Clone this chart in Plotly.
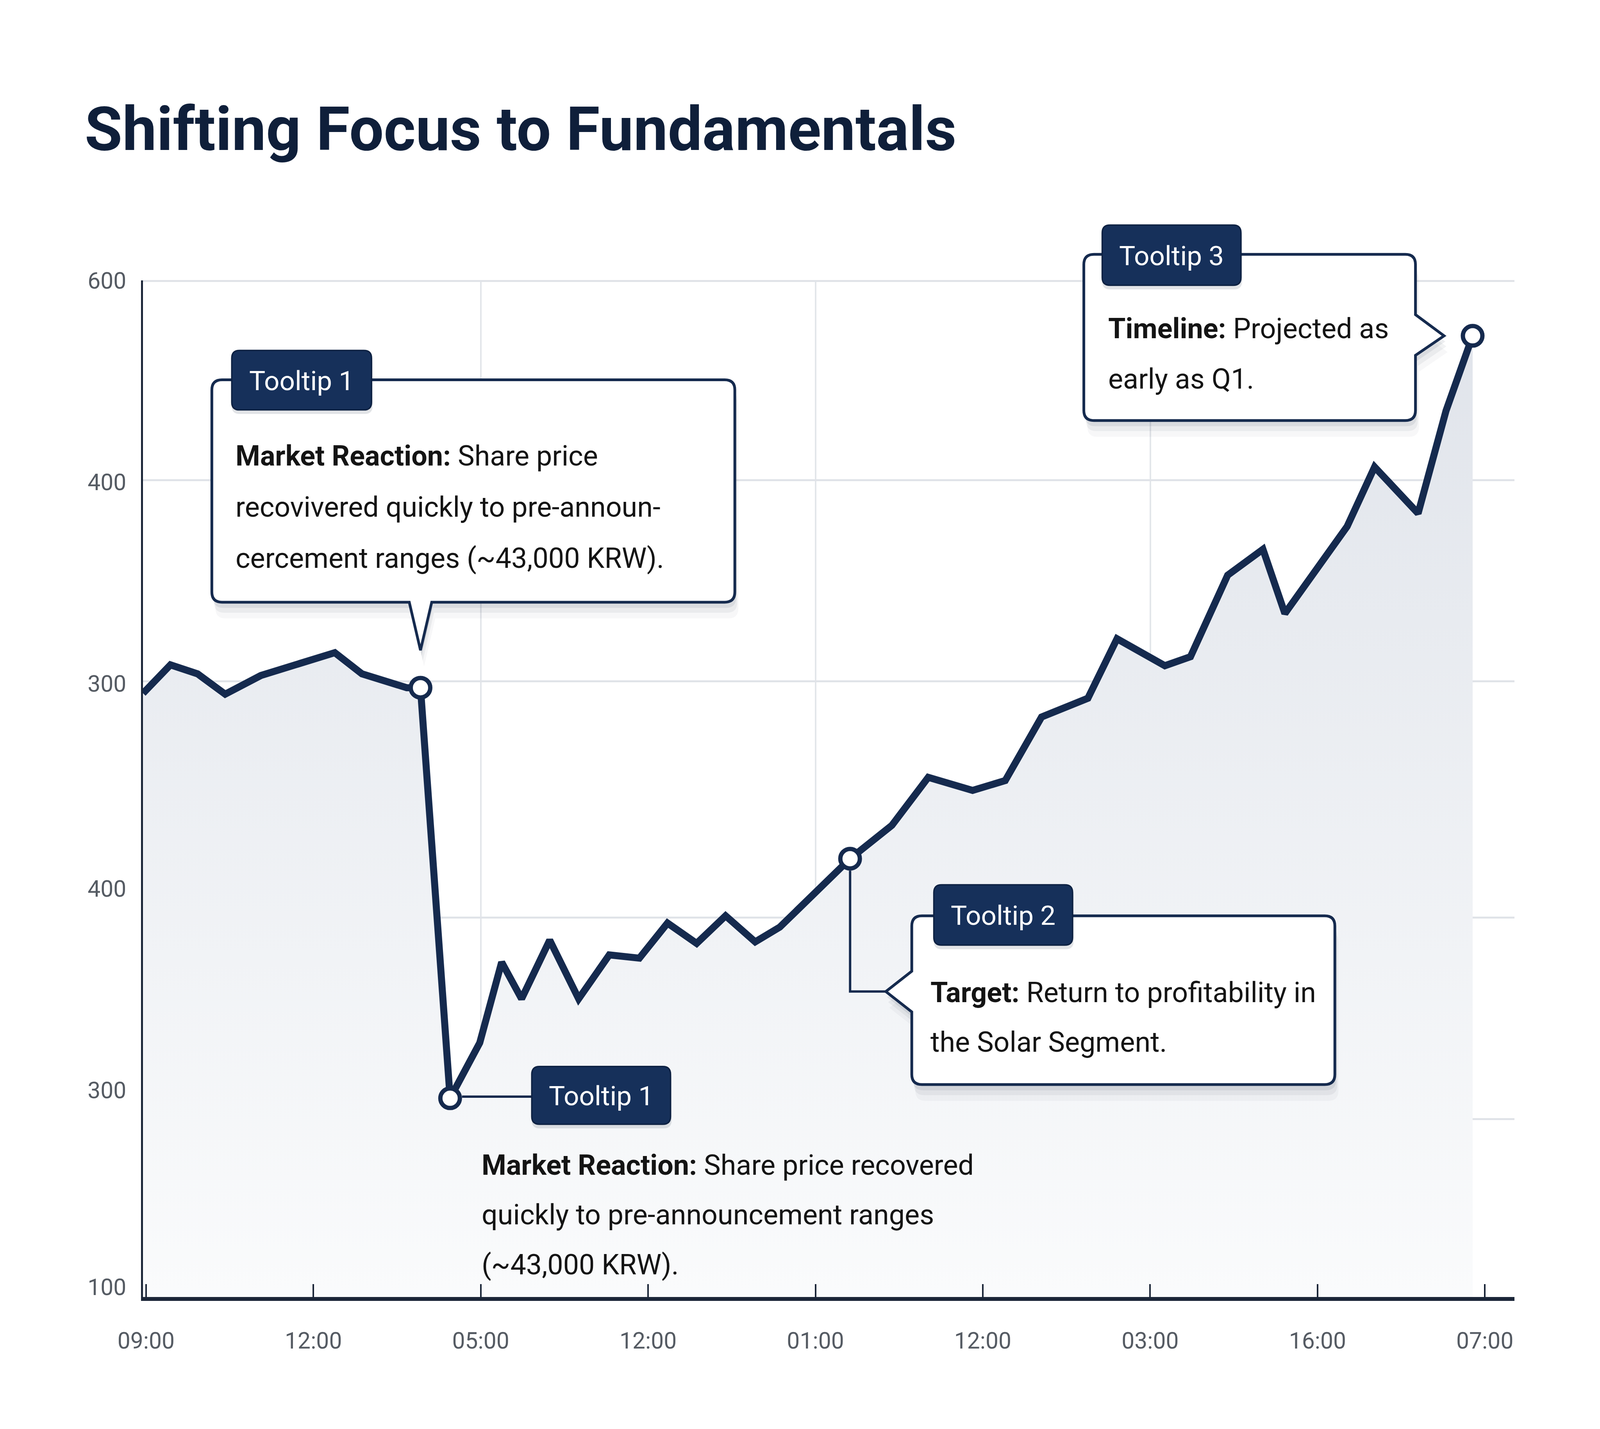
import plotly.graph_objects as go

# ---------------- data ----------------
sessions = [-0.018, 0.146, 0.308, 0.473, 0.686, 1.128, 1.290, 1.558, 1.640, 1.817,
            1.994, 2.125, 2.244, 2.412, 2.585, 2.768, 2.948, 3.116, 3.290, 3.463,
            3.640, 3.787, 4.207, 4.457, 4.674, 4.939, 5.134, 5.351, 5.628, 5.802,
            6.088, 6.241, 6.463, 6.674, 6.805, 7.015, 7.177, 7.341, 7.601, 7.768,
            7.927]
price_index = [356.3, 373.1, 367.8, 355.8, 366.8, 380.3, 367.8, 359.6, 359.6, 117.3,
               150.0, 197.6, 176.0, 210.6, 176.0, 201.9, 200.0, 220.7, 208.7, 225.0,
               209.6, 218.3, 258.7, 278.4, 306.7, 299.0, 304.8, 342.3, 353.4, 388.5,
               372.6, 377.9, 426.0, 441.3, 403.4, 431.7, 454.8, 489.9, 462.5, 523.1,
               567.3]
highlight_idx = [8, 9, 22, 40]

x_tick_positions = [0, 1, 2, 3, 4, 5, 6, 7, 8]
x_tick_labels = ["09:00", "12:00", "05:00", "12:00", "01:00", "12:00", "03:00", "16:00", "07:00"]
x_grid_positions = [2.0005, 4.0005, 6.0005]
y_tick_positions = [600, 481, 362, 241, 122, 6]
y_tick_labels = ["600", "400", "300", "400", "300", "100"]
y_grid_positions = [599.6, 482, 363.5, 224, 105]

title_text = "Shifting Focus to Fundamentals"
tip1_label = "Tooltip 1"
tip1_lines = ["<b>Market Reaction:</b> Share price",
              "recovivered quickly to pre-announ-",
              "cercement ranges (~43,000 KRW)."]
tip1b_label = "Tooltip 1"
tip1b_lines = ["<b>Market Reaction:</b> Share price recovered",
               "quickly to pre-announcement ranges",
               "(~43,000 KRW)."]
tip2_label = "Tooltip 2"
tip2_lines = ["<b>Target:</b> Return to profitability in",
              "the Solar Segment."]
tip3_label = "Tooltip 3"
tip3_lines = ["<b>Timeline:</b> Projected as",
              "early as Q1."]

# ---------------- layout geometry ----------------
# The page is photographed in a 4096 x 3659 viewport; the default 8px body margin is kept.
PIC_W, PIC_H = 4096, 3659
OFF = 8
FIG_W, FIG_H = PIC_W - 2 * OFF, PIC_H - 2 * OFF
REF_W, REF_H = 1568.0, 877.0          # reference layout grid
SX, SY = PIC_W / REF_W, PIC_H / REF_H
PL, PR, PT, PB = 140.0, 1484.0, 172.0, 796.0
X_RANGE = [(PL - 143.0) / 164.0, (PR - 143.0) / 164.0]
Y_RANGE = [0, 600]

NAVY = "#152a4e"
PILL = "#16305a"
TXT = "#141414"
FONT = "Roboto"


def to_paper(xp, yp):
    return (xp - PL) / (PR - PL), (PB - yp) / (PB - PT)


def data_to_grid(xv, yv):
    xp = PL + (xv - X_RANGE[0]) / (X_RANGE[1] - X_RANGE[0]) * (PR - PL)
    yp = PB - (yv - Y_RANGE[0]) / (Y_RANGE[1] - Y_RANGE[0]) * (PB - PT)
    return xp, yp


def fmt(x, y):
    a, b = to_paper(x, y)
    return f"{a:.5f},{b:.5f}"


def box_path(x0, y0, x1, y1, rpx, pointer=None, dx=0.0, dy=0.0):
    rx, ry = rpx / SX, rpx / SY

    def P(x, y):
        return fmt(x + dx, y + dy)

    s = ["M" + P(x0 + rx, y0), "L" + P(x1 - rx, y0), "Q" + P(x1, y0) + " " + P(x1, y0 + ry)]
    if pointer and pointer[0] == "right":
        _, a, b, tx, ty = pointer
        s += ["L" + P(x1, a), "L" + P(tx, ty), "L" + P(x1, b)]
    s += ["L" + P(x1, y1 - ry), "Q" + P(x1, y1) + " " + P(x1 - rx, y1)]
    if pointer and pointer[0] == "bottom":
        _, a, b, tx, ty = pointer
        s += ["L" + P(b, y1), "L" + P(tx, ty), "L" + P(a, y1)]
    s += ["L" + P(x0 + rx, y1), "Q" + P(x0, y1) + " " + P(x0, y1 - ry)]
    if pointer and pointer[0] == "left":
        _, a, b, tx, ty = pointer
        s += ["L" + P(x0, b), "L" + P(tx, ty), "L" + P(x0, a)]
    s += ["L" + P(x0, y0 + ry), "Q" + P(x0, y0) + " " + P(x0 + rx, y0), "Z"]
    return " ".join(s)


shapes = []
annotations = []


def add_box(x0, y0, x1, y1, pointer):
    for off, alpha in [(10, 0.035), (6.5, 0.055), (3.5, 0.08)]:
        shapes.append(dict(type="path", xref="paper", yref="paper", layer="above",
                           path=box_path(x0, y0, x1, y1, 26, pointer, dx=off * 0.35, dy=off),
                           fillcolor=f"rgba(20,35,60,{alpha})", line=dict(width=0)))
    shapes.append(dict(type="path", xref="paper", yref="paper", layer="above",
                       path=box_path(x0, y0, x1, y1, 26, pointer),
                       fillcolor="white", line=dict(color=NAVY, width=7)))


def add_pill(x0, y0, x1, y1, label):
    shapes.append(dict(type="path", xref="paper", yref="paper", layer="above",
                       path=box_path(x0, y0 + 2.5, x1 + 1, y1 + 2.5, 20),
                       fillcolor="rgba(20,35,60,0.12)", line=dict(width=0)))
    shapes.append(dict(type="path", xref="paper", yref="paper", layer="above",
                       path=box_path(x0, y0, x1, y1, 20),
                       fillcolor=PILL, line=dict(color="#0d2142", width=3.5)))
    cx, cy = to_paper((x0 + x1) / 2, (y0 + y1) / 2 + 0.5)
    annotations.append(dict(x=cx, y=cy, xref="paper", yref="paper", text=label,
                            showarrow=False, xanchor="center", yanchor="middle",
                            font=dict(family=FONT, size=26.5 * SX, color="white")))


def add_lines(x_left, baselines, lines, size=27.5):
    fpx = size * SX
    for b, t in zip(baselines, lines):
        px, py = to_paper(x_left, b - 0.34 * fpx / SY)
        annotations.append(dict(x=px, y=py, xref="paper", yref="paper", text=t,
                                showarrow=False, xanchor="left", yanchor="middle",
                                align="left",
                                font=dict(family=FONT, size=fpx, color=TXT)))


def add_line(pts, width=6):
    path = "M" + fmt(*pts[0]) + "".join(" L" + fmt(*p) for p in pts[1:])
    shapes.append(dict(type="path", xref="paper", yref="paper", layer="above",
                       path=path, line=dict(color=NAVY, width=width)))


MARKER_PX = 50
MARKER_LINE = 11
MRX = (MARKER_PX / 2 + MARKER_LINE / 2) / SX
MRY = (MARKER_PX / 2 + MARKER_LINE / 2) / SY
a1 = data_to_grid(sessions[highlight_idx[0]], price_index[highlight_idx[0]])
a1b = data_to_grid(sessions[highlight_idx[1]], price_index[highlight_idx[1]])
a2 = data_to_grid(sessions[highlight_idx[2]], price_index[highlight_idx[2]])
a3 = data_to_grid(sessions[highlight_idx[3]], price_index[highlight_idx[3]])

# Tooltip 1 (upper box)
add_box(207.5, 233, 720, 369.5, ("bottom", a1[0] - 11, a1[0] + 11, a1[0], a1[1] - 23))
add_pill(227, 215, 364, 251.5, tip1_label)
add_lines(230, [285.5, 317, 348.5], tip1_lines)

# Tooltip 3
add_box(1062, 156, 1387, 258, ("right", a3[1] - 13, a3[1] + 12, a3[0] - 28, a3[1]))
add_pill(1080, 138, 1216, 175, tip3_label)
add_lines(1085, [207.5, 238.5], tip3_lines)

# Tooltip 2
t2y = 608.5
add_line([(a2[0], a2[1] + MRY), (a2[0], t2y), (868, t2y)])
add_box(893.4, 562, 1308, 665.6, ("left", t2y - 12.5, t2y + 12.5, 868, t2y))
add_pill(915, 543, 1051, 580, tip2_label)
add_lines(911, [615, 645.5], tip2_lines)

# Tooltip 1 (lower, no box)
add_line([(a1b[0] + MRX, a1b[1] - 1), (521, a1b[1] - 1)])
add_pill(521, 654.5, 657, 690, tip1b_label)
add_lines(471, [721, 751.5, 782], tip1b_lines)

fig = go.Figure()
fig.add_trace(go.Scatter(
    x=sessions, y=price_index, mode="lines",
    line=dict(color=NAVY, width=18, shape="linear"),
    fill="tozeroy",
    fillgradient=dict(type="vertical", start=0, stop=600,
                      colorscale=[[0, "#fafbfc"], [1, "#dfe3ea"]]),
    hoverinfo="skip", showlegend=False))
fig.add_trace(go.Scatter(
    x=[sessions[i] for i in highlight_idx], y=[price_index[i] for i in highlight_idx],
    mode="markers", cliponaxis=False,
    marker=dict(size=MARKER_PX, color="white", line=dict(color=NAVY, width=MARKER_LINE)),
    hoverinfo="skip", showlegend=False))

fig.update_layout(
    width=FIG_W, height=FIG_H,
    margin=dict(l=PL * SX - OFF, r=FIG_W - (PR * SX - OFF),
                t=PT * SY - OFF, b=FIG_H - (PB * SY - OFF), pad=0),
    paper_bgcolor="white", plot_bgcolor="white",
    font=dict(family=FONT, color="#555b63"),
    title=dict(text="<b>" + title_text + "</b>", xref="container", yref="container",
               x=(83 * SX - OFF) / FIG_W, xanchor="left",
               y=1 - (79 * SY - OFF) / FIG_H, yanchor="middle",
               font=dict(family=FONT, size=60 * SX, color="#0f1f3a")),
    shapes=shapes, annotations=annotations,
    xaxis=dict(range=X_RANGE, tickmode="array", tickvals=x_tick_positions,
               ticktext=x_tick_labels, showgrid=False, zeroline=False,
               showline=True, linecolor="#1b2638", linewidth=10,
               ticks="inside", ticklen=33, tickwidth=4, tickcolor="#1b2638",
               tickfont=dict(family=FONT, size=22.5 * SX, color="#555b63"),
               ticklabelstandoff=51,
               minor=dict(tickmode="array", tickvals=x_grid_positions, showgrid=True,
                          gridcolor="#e3e6ea", gridwidth=4, ticks="")),
    yaxis=dict(range=Y_RANGE, tickmode="array", tickvals=y_tick_positions,
               ticktext=y_tick_labels, showgrid=False, zeroline=False,
               showline=True, linecolor="#1b2638", linewidth=5,
               ticks="", tickfont=dict(family=FONT, size=22.5 * SX, color="#555b63"),
               ticklabelstandoff=26,
               minor=dict(tickmode="array", tickvals=y_grid_positions, showgrid=True,
                          gridcolor="#e0e3e8", gridwidth=5, ticks="")),
)

fig.write_html("out.html")
